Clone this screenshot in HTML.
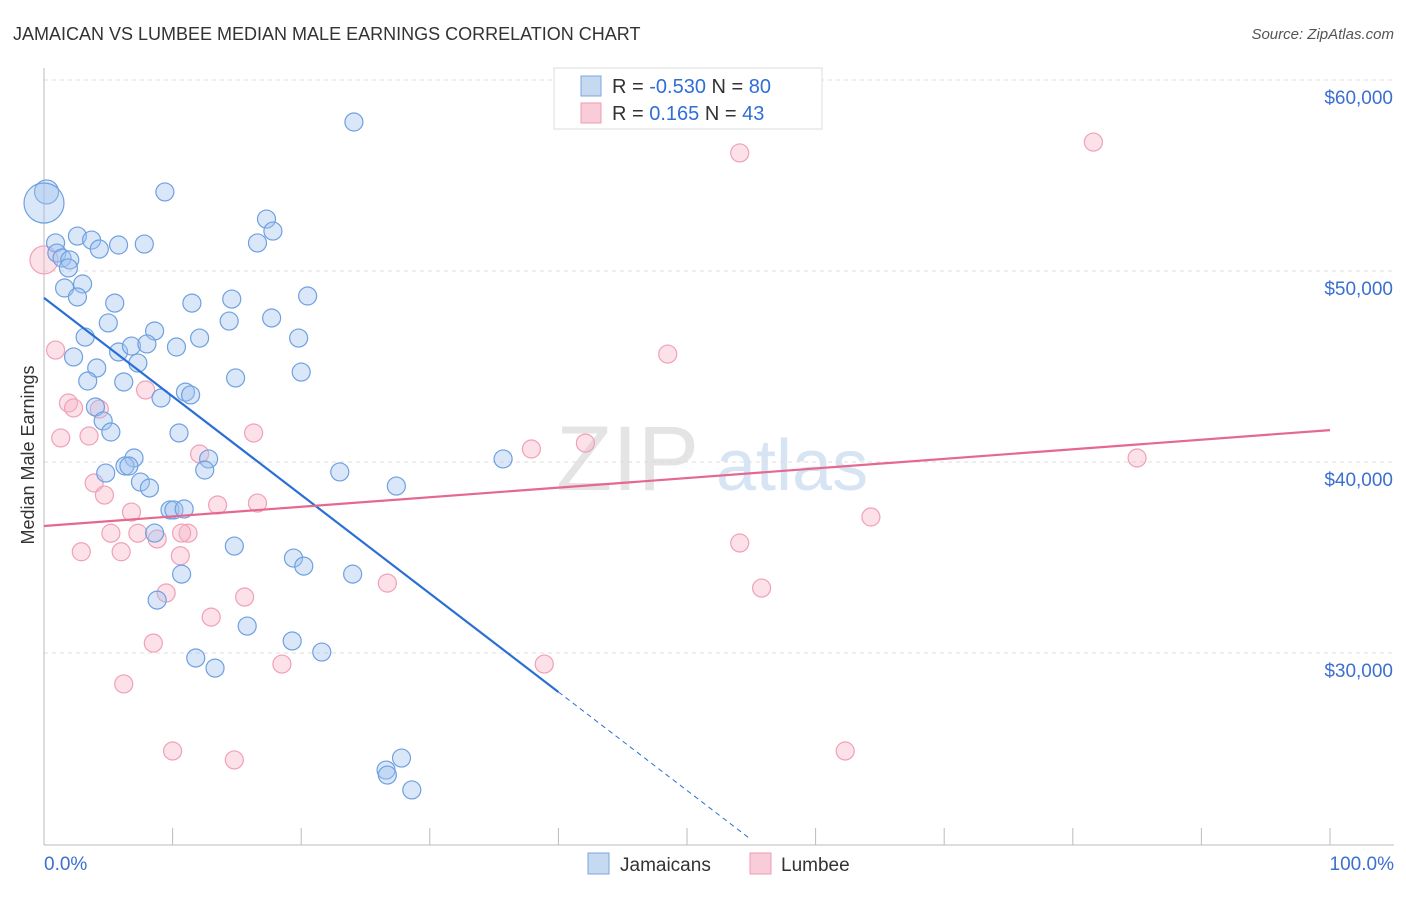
<!DOCTYPE html>
<html><head><meta charset="utf-8"><style>
body{margin:0;background:#fff;font-family:"Liberation Sans",sans-serif}
svg text{font-family:"Liberation Sans",sans-serif}
</style></head><body>
<svg id="chart" width="1406" height="892" xmlns="http://www.w3.org/2000/svg">
<text x="13" y="40" font-size="18" fill="#333">JAMAICAN VS LUMBEE MEDIAN MALE EARNINGS CORRELATION CHART</text>
<text x="1394" y="39" font-size="15" fill="#555" text-anchor="end" font-style="italic">Source: ZipAtlas.com</text>
<g>
<text x="556" y="490" font-size="92" fill="#e4e4e4" font-family="Liberation Serif, serif">ZIP</text>
<text x="716" y="490" font-size="72" fill="#d6e4f4">atlas</text>
</g>
<g id="grid"></g>
<g id="axes"></g>
<g id="marks"></g>
<g id="trends"></g>
<text transform="translate(34,455) rotate(-90)" font-size="18" fill="#333" text-anchor="middle">Median Male Earnings</text>
<g>
<rect x="554" y="68" width="268" height="61" fill="#fff" stroke="#ddd"/>
<rect x="581" y="76" width="20" height="20" fill="#c5d9f1" stroke="#7aa6e0"/>
<rect x="581" y="103" width="20" height="20" fill="#f9ccd9" stroke="#f09ab2"/>
<text x="612" y="93" font-size="20" fill="#333">R = <tspan fill="#2f6fd6">-0.530</tspan>   N = <tspan fill="#2f6fd6">80</tspan></text>
<text x="612" y="120" font-size="20" fill="#333">R =    <tspan fill="#2f6fd6">0.165</tspan>   N = <tspan fill="#2f6fd6">43</tspan></text>
</g>
<g>
<rect x="588" y="853" width="21" height="21" fill="#c5d9f1" stroke="#7aa6e0"/>
<text x="620" y="871" font-size="19" fill="#333">Jamaicans</text>
<rect x="750" y="853" width="21" height="21" fill="#f9ccd9" stroke="#f09ab2"/>
<text x="781" y="871" font-size="19" fill="#333">Lumbee</text>
</g>
</svg>
<script>
const yTicks=[30000,40000,50000,60000];
const yTickLabels=["$30,000","$40,000","$50,000","$60,000"];
const xTickLabels=["0.0%","100.0%"];
const jamX=[0.2,0,0.9,1.0,2.6,3.7,4.3,5.8,7.8,9.4,24.1,17.3,17.8,16.6,1.4,2.0,1.9,1.6,3.0,2.6,5.5,11.5,14.6,20.5,5.0,8.6,3.2,12.1,14.4,17.7,19.8,5.8,6.8,8.0,10.3,7.3,2.3,4.1,3.4,6.2,14.9,20.0,9.1,11.0,11.4,4.0,4.6,5.2,10.5,7.0,6.3,6.6,4.8,12.8,12.5,23.0,35.7,27.4,7.5,8.2,9.8,10.1,10.9,8.6,14.8,19.4,20.2,10.7,24.0,8.8,15.8,19.3,21.6,11.8,13.3,27.8,26.6,26.7,28.6];
const jamY=[54140,53560,51470,50940,51830,51620,51150,51360,51410,54140,57800,52720,52090,51470,50680,50580,50160,49110,49320,48640,48320,48320,48530,48690,47280,46860,46540,46490,47380,47540,46490,45760,46070,46180,46020,45180,45500,44920,44240,44190,44400,44710,43350,43660,43510,42880,42150,41570,41520,40210,39790,39790,39420,40160,39580,39480,40160,38740,38950,38640,37490,37490,37540,36280,35600,34970,34550,34130,34130,32770,31410,30630,30050,29740,29210,24500,23870,23610,22830];
const jamR=[12,20];
const lumX=[0,0.9,1.9,2.3,4.3,1.3,3.5,7.9,12.1,16.3,48.5,37.9,42.1,81.6,54.1,85.0,3.9,4.7,6.8,13.5,16.6,5.2,7.3,8.8,11.2,10.6,2.9,6.0,10.7,64.3,54.1,9.5,15.6,26.7,55.8,13.0,8.5,18.5,38.9,6.2,10.0,14.8,62.3];
const lumY=[50580,45860,43090,42830,42770,41260,41360,43770,40420,41520,45650,40680,40990,56750,56180,40210,38900,38270,37380,37750,37850,36270,36270,35970,36270,35090,35300,35300,36280,37120,35760,33140,32930,33660,33400,31880,30520,29420,29420,28380,24870,24400,24870];
const jamTrend=[48590,27960]; // value at 0% and at 40%
const lumTrend=[36650,41670]; // value at 0% and 100%
const NS="http://www.w3.org/2000/svg";
const X=v=>44+v/100*1286;
const Y=v=>80+(60000-v)/10000*191;
function mk(tag,attrs,parent){const e=document.createElementNS(NS,tag);for(const k in attrs)e.setAttribute(k,attrs[k]);parent.appendChild(e);return e;}
const grid=document.getElementById('grid'),axes=document.getElementById('axes'),marks=document.getElementById('marks'),trends=document.getElementById('trends');
yTicks.forEach((t,i)=>{
 const l=mk('line',{x1:44,x2:1394,y1:Y(t),y2:Y(t),stroke:'#ddd','stroke-dasharray':'4,4'},grid);
 
 
 const tx=mk('text',{x:1393,y:Y(t)+24,'font-size':19,fill:'#3b6fd0','text-anchor':'end'},axes);
 tx.textContent=yTickLabels[i];
 
 
});
const ax=mk('line',{x1:44,x2:1394,y1:845,y2:845,stroke:'#bbb'},axes);


const ay=mk('line',{x1:44,x2:44,y1:68,y2:845,stroke:'#bbb'},axes);


for(let i=1;i<=10;i++){
 const tk=mk('line',{x1:X(i*10),x2:X(i*10),y1:828,y2:845,stroke:'#bbb'},axes);
 
 
}
[[0,'start',44],[100,'end',1394]].forEach((a,i)=>{
 const tx=mk('text',{x:a[2],y:870,'font-size':19,fill:'#3b6fd0','text-anchor':a[1]},axes);
 tx.textContent=xTickLabels[i];
 
 
});
lumX.forEach((v,i)=>{
 const c=mk('circle',{cx:X(v),cy:Y(lumY[i]),r:i==0?14:9,fill:'rgba(247,180,200,0.4)',stroke:'#f0a0b8','stroke-width':1.2},marks);
 
 
});
jamX.forEach((v,i)=>{
 const c=mk('circle',{cx:X(v),cy:Y(jamY[i]),r:i<2?jamR[i]:9,fill:'rgba(160,195,240,0.4)',stroke:'#6fa0e0','stroke-width':1.2},marks);
 
 
});
const slope=(jamTrend[1]-jamTrend[0])/40;
const jl=mk('line',{x1:X(0),y1:Y(jamTrend[0]),x2:X(40),y2:Y(jamTrend[1]),stroke:'#2a6fd6','stroke-width':2.2},trends);


const xe=55;
const jd=mk('line',{x1:X(40),y1:Y(jamTrend[1]),x2:X(xe),y2:Y(jamTrend[0]+slope*xe),stroke:'#2a6fd6','stroke-width':1,'stroke-dasharray':'5,4'},trends);


const ll=mk('line',{x1:X(0),y1:Y(lumTrend[0]),x2:X(100),y2:Y(lumTrend[1]),stroke:'#e5688f','stroke-width':2.2},trends);


</script>
</body></html>
